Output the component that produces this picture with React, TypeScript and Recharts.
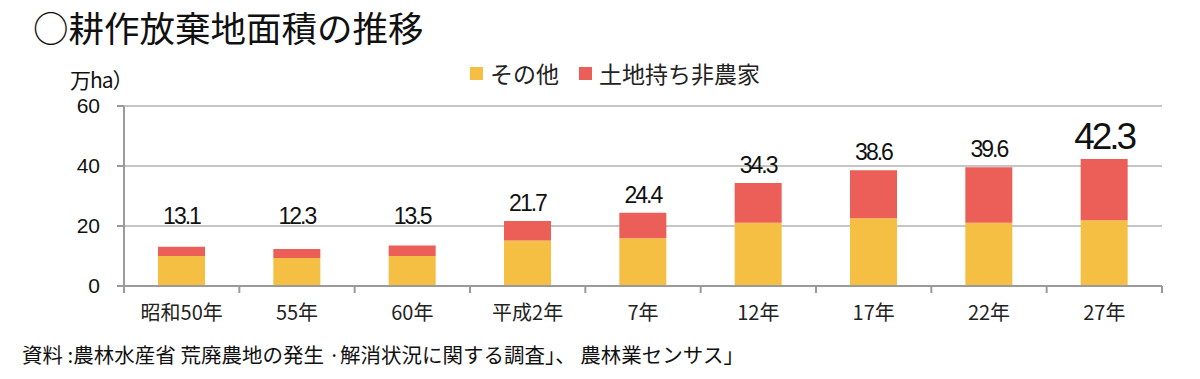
import { BarChart, Bar, XAxis, YAxis, CartesianGrid, LabelList } from 'recharts';

const categories = ['昭和50年', '55年', '60年', '平成2年', '7年', '12年', '17年', '22年', '27年'];
const others = [10.0, 9.3, 10.0, 15.2, 15.9, 21.1, 22.6, 21.1, 21.9];
const nonFarmers = [3.1, 3.0, 3.5, 6.5, 8.5, 13.2, 16.0, 18.5, 20.4];
const totals = [13.1, 12.3, 13.5, 21.7, 24.4, 34.3, 38.6, 39.6, 42.3];
const yTicks = [0, 20, 40, 60];

const data = categories.map((name, i) => ({
  name,
  その他: others[i],
  土地持ち非農家: nonFarmers[i],
}));

const YELLOW = '#F4BF42';
const RED = '#EC5E58';
const AXIS = '#9a9a9a';
const PLOT_W = 1038;
const BAND = PLOT_W / categories.length;

const jpFont = '"Noto Sans CJK JP", "Noto Sans", sans-serif';
const numFont = '"Liberation Sans", Arial, sans-serif';

function XTick(props: any) {
  const { x, y, index } = props;
  const axisY = y - 8;
  return (
    <g>
      <line x1={x - BAND / 2} y1={axisY} x2={x - BAND / 2} y2={axisY + 7} stroke={AXIS} strokeWidth={2} />
      {index === categories.length - 1 && (
        <line x1={x + BAND / 2} y1={axisY} x2={x + BAND / 2} y2={axisY + 7} stroke={AXIS} strokeWidth={2} />
      )}
      <text x={x} y={axisY + 34} textAnchor="middle" fontSize={20} fill="#222" fontFamily={jpFont}>
        {categories[index]}
      </text>
    </g>
  );
}

// total label drawn from the bottom segment, so the plot floor is known
function TotalLabel(props: any) {
  const { x, y, width, height, index } = props;
  const ppu = Number(height) / others[index];
  const bottom = Number(y) + Number(height);
  const top = bottom - totals[index] * ppu;
  const floor = bottom - 20 * ppu;
  const ly = Math.min(top - 10, floor - 2);
  const big = index === totals.length - 1;
  return (
    <text
      x={Number(x) + Number(width) / 2}
      y={ly}
      textAnchor="middle"
      fontSize={big ? 37 : 23}
      letterSpacing={big ? -3 : -2}
      fill="#111"
      fontFamily={numFont}
    >
      {totals[index].toFixed(1)}
    </text>
  );
}

const legendItems = [
  { label: 'その他', color: YELLOW },
  { label: '土地持ち非農家', color: RED },
];

export default function App() {
  return (
    <div style={{ position: 'absolute', left: 0, top: 0, width: 1200, height: 379, background: '#fff' }}>
      <div style={{ position: 'absolute', left: 33, top: 3, fontSize: 35.5, fontFamily: jpFont, color: '#111', lineHeight: '48px' }}>
        ○耕作放棄地面積の推移
      </div>
      <div style={{ position: 'absolute', left: 70, top: 65, fontSize: 21, fontFamily: jpFont, color: '#111', lineHeight: '28px', letterSpacing: -1 }}>
        万ha）
      </div>
      <div style={{ position: 'absolute', left: 470, top: 59, display: 'flex', alignItems: 'center', fontFamily: jpFont, fontSize: 23, color: '#222' }}>
        {legendItems.map((it) => (
          <div key={it.label} style={{ display: 'flex', alignItems: 'center', marginRight: 20 }}>
            <span style={{ width: 13, height: 13, background: it.color, display: 'inline-block', marginRight: 7 }} />
            <span style={{ lineHeight: '28px' }}>{it.label}</span>
          </div>
        ))}
      </div>
      <BarChart width={1200} height={379} data={data} margin={{ top: 106, right: 38, left: 60, bottom: 53 }}>
        <CartesianGrid vertical={false} stroke="#c6c6c6" strokeWidth={2} />
        <XAxis
          dataKey="name"
          height={40}
          stroke={AXIS}
          strokeWidth={2}
          tickLine={false}
          tick={<XTick />}
          interval={0}
        />
        <YAxis
          width={64}
          domain={[0, 60]}
          ticks={yTicks}
          stroke={AXIS}
          strokeWidth={2}
          tickSize={7}
          tickMargin={17}
          tick={{ fontSize: 21, fill: '#111', fontFamily: numFont }}
        />
        <Bar dataKey="その他" stackId="a" fill={YELLOW} barSize={47} isAnimationActive={false}>
          <LabelList dataKey="その他" content={<TotalLabel />} />
        </Bar>
        <Bar dataKey="土地持ち非農家" stackId="a" fill={RED} barSize={47} isAnimationActive={false} />
      </BarChart>
      <div style={{ position: 'absolute', left: 22, top: 340, fontSize: 20.5, fontFamily: jpFont, color: '#111', lineHeight: '28px' }}>
        資料 :農林水産省 荒廃農地の発生 ·解消状況に関する調査」、 農林業センサス」
      </div>
    </div>
  );
}
